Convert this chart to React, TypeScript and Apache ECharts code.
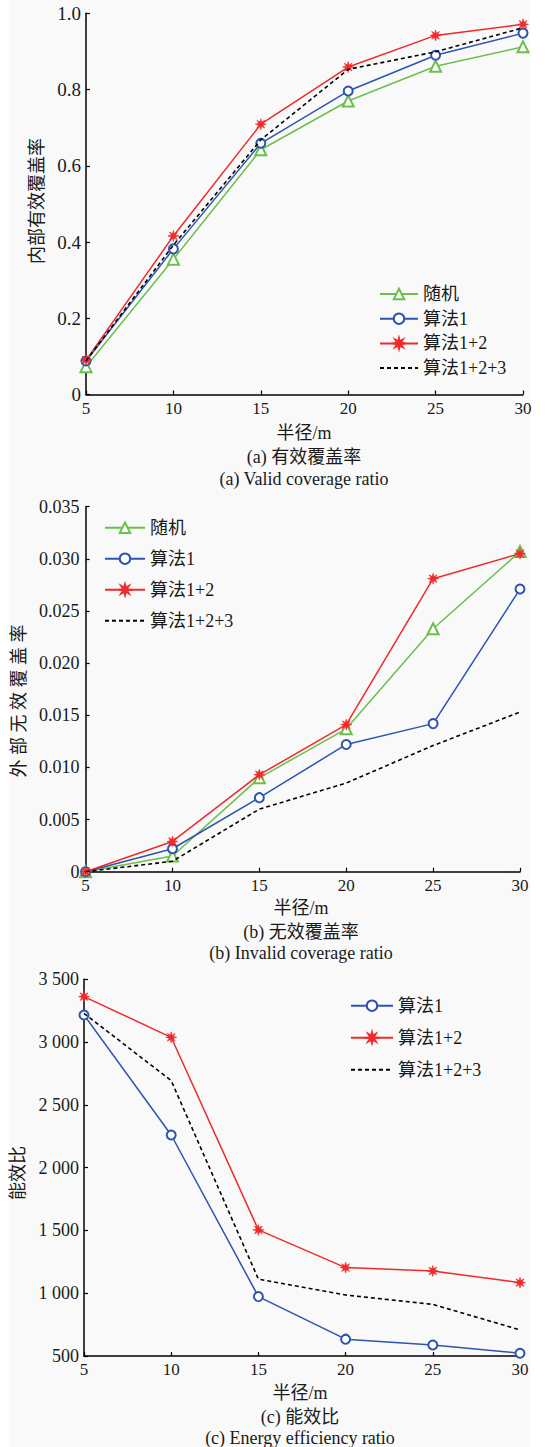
import React, { useEffect, useRef } from "react";
import * as echarts from "echarts";

// ---------- data ----------
const radius = [5, 10, 15, 20, 25, 30];
const seriesNames = ["随机", "算法1", "算法1+2", "算法1+2+3"];

// (a) valid coverage ratio
const validRandom = [0.073, 0.355, 0.642, 0.77, 0.861, 0.912];
const validAlg1 = [0.088, 0.382, 0.659, 0.796, 0.89, 0.948];
const validAlg12 = [0.09, 0.416, 0.709, 0.859, 0.942, 0.971];
const validAlg123 = [0.088, 0.392, 0.668, 0.853, 0.899, 0.962];

// (b) invalid coverage ratio
const invalidRandom = [0, 0.0015, 0.009, 0.0137, 0.0233, 0.0307];
const invalidAlg1 = [0, 0.0022, 0.0071, 0.0122, 0.0142, 0.0271];
const invalidAlg12 = [0, 0.0029, 0.0093, 0.0141, 0.0281, 0.0305];
const invalidAlg123 = [0, 0.001, 0.006, 0.0085, 0.0121, 0.0153];

// (c) energy efficiency ratio
const energyAlg1 = [3216, 2260, 973, 634, 588, 522];
const energyAlg12 = [3362, 3038, 1504, 1204, 1177, 1084];
const energyAlg123 = [3229, 2693, 1112, 986, 911, 708];

// ---------- style ----------
const GREEN = "#6cbf4c";
const BLUE = "#2c54b0";
const RED = "#ee2a2a";
const BLACK = "#000";
const TEXT = "#1a1a1a";
const FONT = "Liberation Serif, Noto Sans CJK SC, serif";

const starPath = (() => {
  const pts: string[] = [];
  for (let i = 0; i < 16; i++) {
    const a = (i * Math.PI) / 8 - Math.PI / 2;
    const r = i % 2 === 0 ? 1 : 0.42;
    pts.push(`${(Math.cos(a) * r).toFixed(3)} ${(Math.sin(a) * r).toFixed(3)}`);
  }
  return "path://M" + pts.join(" L") + " Z";
})();

function pairs(vals: number[]) {
  return radius.map((x, i) => [x, vals[i]]);
}

function mkSeries(idx: number, name: string, vals: number[]) {
  const base: any = {
    type: "line",
    name,
    xAxisIndex: idx,
    yAxisIndex: idx,
    data: pairs(vals),
    z: 3,
  };
  if (name === "随机") {
    return {
      ...base,
      symbol: "emptyTriangle",
      symbolSize: 11,
      lineStyle: { color: GREEN, width: 1.5 },
      itemStyle: { color: GREEN, borderColor: GREEN, borderWidth: 1.5 },
    };
  }
  if (name === "算法1") {
    return {
      ...base,
      symbol: "emptyCircle",
      symbolSize: 9,
      lineStyle: { color: BLUE, width: 1.5 },
      itemStyle: { color: BLUE, borderColor: BLUE, borderWidth: 1.5 },
    };
  }
  if (name === "算法1+2") {
    return {
      ...base,
      symbol: starPath,
      symbolSize: 11,
      lineStyle: { color: RED, width: 1.5 },
      itemStyle: { color: RED, borderColor: RED, borderWidth: 0.6 },
      z: 4,
    };
  }
  return {
    ...base,
    symbol: "none",
    lineStyle: { color: BLACK, width: 1.6, type: [4, 3] },
    itemStyle: { color: BLACK },
    z: 5,
  };
}

function xAxis(idx: number) {
  return {
    type: "value",
    gridIndex: idx,
    min: 5,
    max: 30,
    interval: 5,
    axisLine: { show: true, lineStyle: { color: BLACK, width: 1.5 } },
    axisTick: { show: true, inside: true, length: 4, lineStyle: { color: BLACK, width: 1.2 } },
    axisLabel: { fontSize: 17, color: TEXT, fontFamily: FONT, margin: 5 },
    splitLine: { show: false },
  };
}

function yAxis(idx: number, min: number, max: number, interval: number, fmt: (v: number) => string, fs: number, margin: number) {
  return {
    type: "value",
    gridIndex: idx,
    min,
    max,
    interval,
    axisLine: { show: true, lineStyle: { color: BLACK, width: 1.5 } },
    axisTick: { show: true, inside: true, length: 4, lineStyle: { color: BLACK, width: 1.2 } },
    axisLabel: { fontSize: fs, color: TEXT, fontFamily: FONT, margin, formatter: fmt, hideOverlap: false },
    splitLine: { show: false },
  };
}

function txt(text: string, x: number, y: number, rot = 0, fs = 18) {
  return {
    type: "text",
    x,
    y,
    rotation: rot,
    z: 10,
    style: {
      text,
      fontSize: fs,
      fontFamily: FONT,
      fill: TEXT,
      align: "center",
      verticalAlign: "middle",
    },
  };
}

function legend(names: string[], left: number, top: number, itemWidth: number, itemGap: number) {
  return {
    orient: "vertical",
    left,
    top,
    itemWidth,
    itemHeight: 13,
    itemGap,
    padding: 0,
    selectedMode: false,
    textStyle: { fontSize: 18, fontFamily: FONT, color: TEXT },
    data: names.map((n) =>
      n === "算法1+2+3"
        ? { name: n, itemStyle: { color: "rgba(0,0,0,0)", borderColor: "rgba(0,0,0,0)", borderWidth: 0 } }
        : { name: n }
    ),
  };
}

export default function App() {
  const ref = useRef<HTMLDivElement>(null);
  useEffect(() => {
    if (!ref.current) return;
    const chart = echarts.init(ref.current, undefined, { renderer: "svg" });
    const thousands = (v: number) => {
      const s = String(Math.round(v));
      return s.length > 3 ? s.slice(0, s.length - 3) + " " + s.slice(s.length - 3) : s;
    };
    const option: any = {
      animation: false,
      backgroundColor: "#ffffff",
      grid: [
        { left: 86, top: 13.3, width: 437, height: 381.2 },
        { left: 85.6, top: 506.7, width: 434.4, height: 365 },
        { left: 84, top: 979.3, width: 436, height: 376.7 },
      ],
      xAxis: [xAxis(0), xAxis(1), xAxis(2)],
      yAxis: [
        yAxis(0, 0, 1, 0.2, (v) => (v === 0 ? "0" : v.toFixed(1)), 19, 5),
        yAxis(1, 0, 0.035, 0.005, (v) => (v === 0 ? "0" : v.toFixed(3)), 18, 6),
        yAxis(2, 500, 3500, 500, thousands, 18, 5),
      ],
      legend: [
        legend(seriesNames, 379, 285, 38, 6.7),
        legend(seriesNames, 104, 518.7, 40, 13),
        legend(seriesNames.slice(1), 350, 996.7, 42, 14),
      ],
      graphic: [
        { type: "rect", z: -10, silent: true, shape: { x: 10, y: 0, width: 520, height: 1447 }, style: { fill: "#f9f9f9" } },
        txt("内部有效覆盖率", 37, 201, Math.PI / 2),
        txt("半径/m", 304, 433),
        txt("(a) 有效覆盖率", 304, 457),
        txt("(a) Valid coverage ratio", 304, 479),
        txt("外\u2005部\u2005无\u2005效\u2005覆\u2005盖\u2005率", 18.5, 701, Math.PI / 2),
        txt("半径/m", 301, 908),
        txt("(b) 无效覆盖率", 301, 932),
        txt("(b) Invalid coverage ratio", 301, 953),
        txt("能效比", 18, 1173, Math.PI / 2),
        txt("半径/m", 300, 1393),
        txt("(c) 能效比", 300, 1417),
        txt("(c) Energy efficiency ratio", 300, 1438),
      ],
      series: [
        mkSeries(0, "随机", validRandom),
        mkSeries(0, "算法1", validAlg1),
        mkSeries(0, "算法1+2", validAlg12),
        mkSeries(0, "算法1+2+3", validAlg123),
        mkSeries(1, "随机", invalidRandom),
        mkSeries(1, "算法1", invalidAlg1),
        mkSeries(1, "算法1+2", invalidAlg12),
        mkSeries(1, "算法1+2+3", invalidAlg123),
        mkSeries(2, "算法1", energyAlg1),
        mkSeries(2, "算法1+2", energyAlg12),
        mkSeries(2, "算法1+2+3", energyAlg123),
      ],
    };
    chart.setOption(option);
    return () => chart.dispose();
  }, []);
  return (
    <div style={{ position: "absolute", left: 0, top: 0, width: 545, height: 1447, background: "#fff" }}>
      <div ref={ref} style={{ width: 545, height: 1447 }} />
    </div>
  );
}
